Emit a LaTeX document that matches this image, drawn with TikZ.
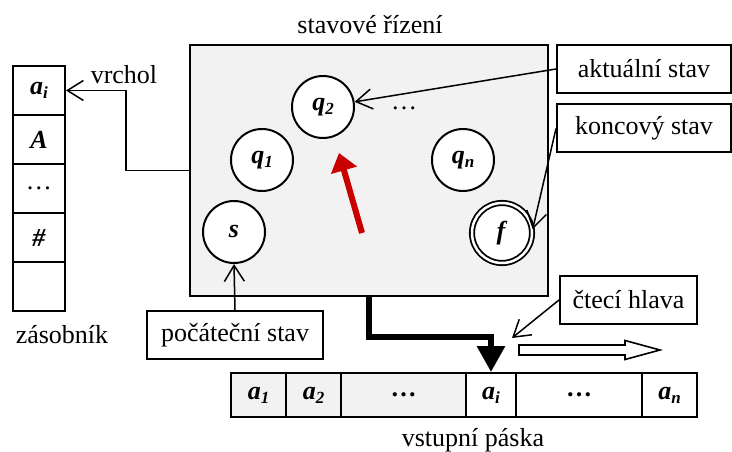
\documentclass[tikz,border=0pt]{standalone}
\usepackage{fontspec}
\setmainfont{Liberation Serif}
\usetikzlibrary{arrows.meta,calc}
\definecolor{ctrlgray}{RGB}{242,242,242}
\definecolor{arrowred}{RGB}{200,0,0}
\newcommand\lowsub[1]{\raisebox{-0.35ex}{\fontsize{17}{17}\selectfont #1}}
\newcommand\bi[1]{\textbf{\textit{#1}}}
\begin{document}
\begin{tikzpicture}[x=1pt,y=-1pt,
  every node/.style={font=\fontsize{26}{30}\selectfont, inner sep=0pt},
  labelbox/.style={draw, line width=2pt, fill=white, minimum width=174pt, minimum height=48pt},
  cell/.style={draw, line width=2pt, fill=white, minimum width=52pt, minimum height=49pt},
  tapecell/.style={draw, line width=2pt, minimum height=44pt},
  state/.style={circle, draw, line width=2pt, fill=white, minimum size=62pt},
  callout/.style={line width=1.5pt, -{Straight Barb[length=16pt,width=20pt,line width=1.5pt]}}]
\useasboundingbox (0,0) rectangle (732,452);

% control unit
\node[draw, line width=2pt, fill=ctrlgray, minimum width=358pt, minimum height=251pt] (ctrl) at (369,170.5) {};
\node (ctrltitle) at (370,25) {stavové řízení};

% states
\node[state] (q2) at (323,107) {\bi{q\lowsub{2}}};
\node[state] (q1) at (262,160) {\bi{q\lowsub{1}}};
\node[state] (qn) at (463,160) {\bi{q\lowsub{n}}};
\node[state] (s) at (234,232) {\bi{s}};
\node[state, minimum size=60pt, line width=1.8pt, double, double distance=2.5pt] (f) at (502,233) {\bi{f}};
\node (cdots) at (404,108) {…};

% red arrow
\coordinate (rtail) at (362,233);
\coordinate (rtip) at (339,153);
\draw[line width=6pt, arrowred, -{Triangle[length=18pt,width=26pt]}] (rtail) -- (rtip);

% label boxes
\node[labelbox] (akt) at (644,69) {aktuální stav};
\node[labelbox] (konc) at (644,128.5) {koncový stav};
\node[labelbox, minimum width=176pt] (poc) at (235,335) {počáteční stav};
\node[labelbox, minimum width=137pt] (cteci) at (628.5,300) {čtecí hlava};

% stack
\node[cell] (s1) at (39,90.5) {\bi{a\lowsub{i}}};
\node[cell] (s2) at (39,139.5) {\bi{A}};
\node[cell] (s3) at (39,188.5) {…};
\node[cell] (s4) at (39,237.5) {\bi{\#}};
\node[cell] (s5) at (39,286.5) {};
\node (zas) at (62,335) {zásobník};
\node (vrchol) at (124,75) {vrchol};

% tape
\node[tapecell, fill=ctrlgray, minimum width=55pt] (t1) at (258.5,395) {\bi{a\lowsub{1}}};
\node[tapecell, fill=ctrlgray, minimum width=55pt] (t2) at (313.5,395) {\bi{a\lowsub{2}}};
\node[tapecell, fill=ctrlgray, minimum width=125pt] (t3) at (403.5,395) {\textbf{…}};
\node[tapecell, fill=white, minimum width=50pt] (t4) at (491,395) {\bi{a\lowsub{i}}};
\node[tapecell, fill=white, minimum width=126pt] (t5) at (579,395) {\textbf{…}};
\node[tapecell, fill=white, minimum width=55pt] (t6) at (669.5,395) {\bi{a\lowsub{n}}};
\node (tapetitle) at (473,440) {vstupní páska};

% connectors
\draw[callout] (ctrl.west) -- ++(-63,0) |- (s1.east);
\draw[callout] (akt.west) -- (q2);
\draw[callout] (konc.west) -- (f.7);
\draw[callout] (poc.north) -- (s.south);
\coordinate (headtip) at (512,338);
\draw[callout] (cteci.west) -- (headtip);
\draw[line width=6pt, -{Triangle[length=26pt,width=27pt]}] (ctrl.south) -- ++(0,40) -| (t4.north);

% movement arrow
\draw[line width=1.6pt, fill=white] (519,345) -- (625,345) -- (625,340.5) -- (660,350) -- (625,359.5) -- (625,355) -- (519,355) -- cycle;
\end{tikzpicture}
\end{document}
